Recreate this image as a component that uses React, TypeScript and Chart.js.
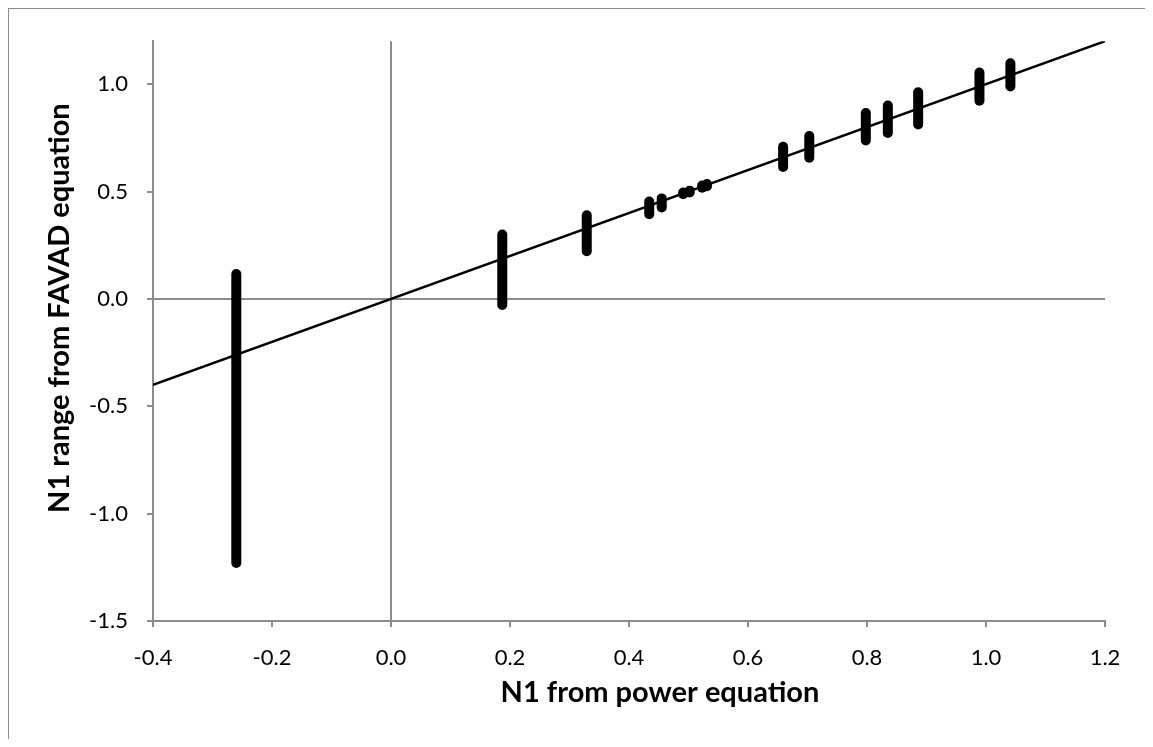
import React, { useEffect, useRef } from 'react';
import { Chart, registerables } from 'chart.js';

Chart.register(...registerables);

// Reference line y = x
const DIAG_X = [-0.4, 1.2];
const DIAG_Y = [-0.4, 1.2];

// Vertical N1 ranges (x = N1 from power equation, low/high = FAVAD range)
const RANGE_X = [-0.26, 0.187, 0.329, 0.434, 0.455, 0.491, 0.502, 0.523, 0.531, 0.659, 0.703, 0.798, 0.835, 0.886, 0.989, 1.041];
const RANGE_LOW = [-1.23, -0.028, 0.222, 0.394, 0.426, 0.487, 0.496, 0.518, 0.525, 0.614, 0.657, 0.738, 0.773, 0.812, 0.923, 0.989];
const RANGE_HIGH = [0.116, 0.3, 0.389, 0.453, 0.468, 0.495, 0.504, 0.528, 0.535, 0.708, 0.758, 0.866, 0.9, 0.962, 1.054, 1.097];

const X_TICKS = [-0.4, -0.2, 0, 0.2, 0.4, 0.6, 0.8, 1.0, 1.2];
const Y_TICKS = [-1.5, -1.0, -0.5, 0, 0.5, 1.0];

const X_TITLE = 'N1 from power equation';
const Y_TITLE = 'N1 range from FAVAD equation';

const GRAY = '#8c8c8c';
const FONT = 'Lato';

const fmt = (v: number) => (Math.abs(v) < 1e-9 ? '0.0' : Number(v).toFixed(1));

const titlePlugin = {
  id: 'axisTitlesCustom',
  afterDraw(chart: any) {
    const { ctx, chartArea: a } = chart;
    ctx.save();
    ctx.fillStyle = '#000';
    ctx.font = `bold 29px ${FONT}`;
    ctx.textAlign = 'center';
    ctx.textBaseline = 'middle';
    ctx.fillText(X_TITLE, (a.left + a.right) / 2 + 31, a.bottom + 72);
    ctx.translate(a.left - 93, (a.top + a.bottom) / 2 - 23);
    ctx.rotate(-Math.PI / 2);
    ctx.fillText(Y_TITLE, 0, 0);
    ctx.restore();
  },
};

export default function App() {
  const ref = useRef<HTMLCanvasElement | null>(null);

  useEffect(() => {
    document.documentElement.style.overflow = 'hidden';
    if (!ref.current) return;

    const datasets: any[] = [
      {
        label: 'y = x',
        data: DIAG_X.map((x, i) => ({ x, y: DIAG_Y[i] })),
        showLine: true,
        borderColor: '#000',
        borderWidth: 2.5,
        pointRadius: 0,
        order: 2,
      },
    ];
    RANGE_X.forEach((x, i) => {
      datasets.push({
        label: `range ${i + 1}`,
        data: [
          { x, y: RANGE_LOW[i] },
          { x, y: RANGE_HIGH[i] },
        ],
        showLine: true,
        borderColor: '#000',
        borderWidth: 10,
        borderCapStyle: 'round',
        pointRadius: 0,
        order: 1,
      });
    });

    const chart = new Chart(ref.current, {
      type: 'scatter',
      data: { datasets },
      plugins: [titlePlugin],
      options: {
        animation: false,
        responsive: false,
        maintainAspectRatio: false,
        layout: { padding: { left: 0, right: 40, top: 29, bottom: 0 } },
        plugins: { legend: { display: false }, tooltip: { enabled: false } },
        scales: {
          x: {
            type: 'linear',
            min: -0.4,
            max: 1.2,
            afterBuildTicks: (scale: any) => {
              scale.ticks = X_TICKS.map((v) => ({ value: v }));
            },
            afterFit: (scale: any) => {
              scale.height = 118;
            },
            ticks: {
              callback: (v: any) => fmt(v),
              color: '#000',
              font: { family: FONT, size: 22 },
              padding: 18,
              maxRotation: 0,
              autoSkip: false,
            },
            grid: {
              color: (c: any) => (c.tick && Math.abs(c.tick.value) < 1e-9 ? GRAY : 'rgba(0,0,0,0)'),
              lineWidth: 2,
              tickColor: GRAY,
              tickLength: 6,
              drawTicks: true,
            },
            border: { display: true, color: GRAY, width: 2 },
          },
          y: {
            type: 'linear',
            min: -1.5,
            max: 1.2,
            afterBuildTicks: (scale: any) => {
              scale.ticks = Y_TICKS.map((v) => ({ value: v }));
            },
            afterFit: (scale: any) => {
              scale.width = 144;
            },
            ticks: {
              callback: (v: any) => fmt(v),
              color: '#000',
              font: { family: FONT, size: 22 },
              padding: 19,
              autoSkip: false,
            },
            grid: {
              color: (c: any) => (c.tick && Math.abs(c.tick.value) < 1e-9 ? GRAY : 'rgba(0,0,0,0)'),
              lineWidth: 2,
              tickColor: GRAY,
              tickLength: 6,
              drawTicks: true,
            },
            border: { display: true, color: GRAY, width: 2 },
          },
        },
      },
    });
    return () => chart.destroy();
  }, []);

  return (
    <div
      style={{
        borderTop: `1px solid ${GRAY}`,
        borderLeft: `1px solid ${GRAY}`,
        width: 1136,
        height: 730,
        background: '#fff',
      }}
    >
      <canvas ref={ref} width={1136} height={730} style={{ display: 'block', width: 1136, height: 730 }} />
    </div>
  );
}
